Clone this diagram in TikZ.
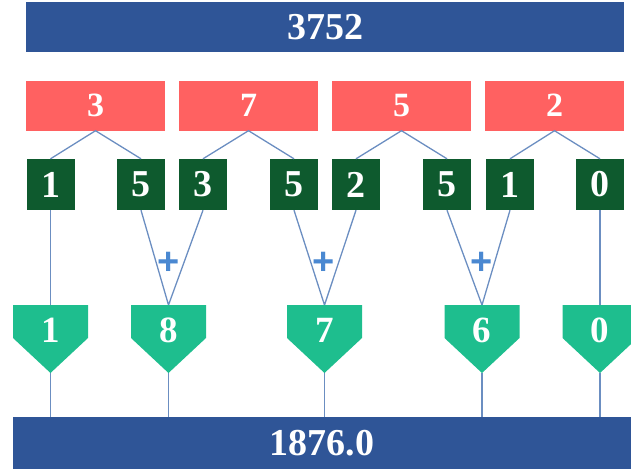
\documentclass[tikz,border=0pt]{standalone}
\usepackage{fontspec}
\setmainfont{Liberation Serif}
\newfontfamily\plusfont{Liberation Sans}
\newlength{\du}
\setlength{\du}{1pt}

\definecolor{barblue}{rgb}{0.184, 0.333, 0.592}
\definecolor{digitred}{rgb}{1.000, 0.380, 0.380}
\definecolor{pairgreen}{rgb}{0.055, 0.353, 0.180}
\definecolor{sumgreen}{rgb}{0.118, 0.745, 0.557}
\definecolor{wireblue}{rgb}{0.420, 0.557, 0.757}
\definecolor{plusblue}{rgb}{0.290, 0.533, 0.820}

\tikzset{
  bar/.style={fill=barblue, inner sep=0pt, minimum height=50\du, text=white, font=\bfseries\fontsize{38}{38}\selectfont},
  digit/.style={fill=digitred, inner sep=0pt, minimum width=139\du, minimum height=50\du, text=white, font=\bfseries\fontsize{34}{34}\selectfont},
  pair/.style={fill=pairgreen, inner sep=0pt, minimum width=48\du, minimum height=51\du, text=white, font=\bfseries\fontsize{38}{38}\selectfont},
  sumtext/.style={inner sep=0pt, text=white, font=\bfseries\fontsize{37}{37}\selectfont},
  plus/.style={inner sep=0pt, text=plusblue, font=\plusfont\bfseries\fontsize{38}{38}\selectfont},
  wire/.style={draw=wireblue, line width=1.3\du},
}

\begin{document}
\begin{tikzpicture}
\pgftransformxscale{1.000000}
\pgftransformyscale{-1.000000}
\useasboundingbox (0\du,0\du) rectangle (631\du,472\du);

\node[bar, minimum width=598\du] (num) at (325\du,27\du){3752};

\node[digit] (d1) at (95.5\du,105.5\du){3};
\node[digit] (d2) at (248.5\du,105.5\du){7};
\node[digit] (d3) at (401.5\du,105.5\du){5};
\node[digit] (d4) at (554.5\du,105.5\du){2};

\node[pair] (p1) at (50.5\du,184.5\du){1};
\node[pair] (p2) at (141\du,184.5\du){5};
\node[pair] (p3) at (203\du,184.5\du){3};
\node[pair] (p4) at (294\du,184.5\du){5};
\node[pair] (p5) at (356\du,184.5\du){2};
\node[pair] (p6) at (447\du,184.5\du){5};
\node[pair] (p7) at (510\du,184.5\du){1};
\node[pair] (p8) at (600\du,184.5\du){0};

\node[bar, minimum width=618\du, minimum height=52\du] (res) at (322\du,443\du){1876.0};

% top and tip of each sum
\coordinate (s1top) at (50.5\du,305\du);
\coordinate (s2top) at (168.5\du,305\du);
\coordinate (s3top) at (324.5\du,305\du);
\coordinate (s4top) at (482\du,305\du);
\coordinate (s5top) at (600\du,305\du);
\coordinate (s1tip) at (50.5\du,373\du);
\coordinate (s2tip) at (168.5\du,373\du);
\coordinate (s3tip) at (324.5\du,373\du);
\coordinate (s4tip) at (482\du,373\du);
\coordinate (s5tip) at (600\du,373\du);

\draw[wire] (p1.south)--(s1top);
\draw[wire] (p2.south)--(s2top)--(p3.south);
\draw[wire] (p4.south)--(s3top)--(p5.south);
\draw[wire] (p6.south)--(s4top)--(p7.south);
\draw[wire] (p8.south)--(s5top);

\draw[wire] (p1.north)--(d1.south)--(p2.north);
\draw[wire] (p3.north)--(d2.south)--(p4.north);
\draw[wire] (p5.north)--(d3.south)--(p6.north);
\draw[wire] (p7.north)--(d4.south)--(p8.north);

\draw[wire] (s1tip)--(s1tip|-res.north);
\draw[wire] (s2tip)--(s2tip|-res.north);
\draw[wire] (s3tip)--(s3tip|-res.north);
\draw[wire] (s4tip)--(s4tip|-res.north);
\draw[wire] (s5tip)--(s5tip|-res.north);

\fill[sumgreen] (s1top)++(-37.5\du,0\du)--++(75\du,0\du)--++(0\du,33\du)--(s1tip)--++(-37.5\du,-35\du)--cycle;
\fill[sumgreen] (s2top)++(-37.5\du,0\du)--++(75\du,0\du)--++(0\du,33\du)--(s2tip)--++(-37.5\du,-35\du)--cycle;
\fill[sumgreen] (s3top)++(-37.5\du,0\du)--++(75\du,0\du)--++(0\du,33\du)--(s3tip)--++(-37.5\du,-35\du)--cycle;
\fill[sumgreen] (s4top)++(-37.5\du,0\du)--++(75\du,0\du)--++(0\du,33\du)--(s4tip)--++(-37.5\du,-35\du)--cycle;
\fill[sumgreen] (s5top)++(-37.5\du,0\du)--++(75\du,0\du)--++(0\du,33\du)--(s5tip)--++(-37.5\du,-35\du)--cycle;

\node[sumtext] (v1) at (50.5\du,330\du){1};
\node[sumtext] (v2) at (168.5\du,330\du){8};
\node[sumtext] (v3) at (324.5\du,330\du){7};
\node[sumtext] (v4) at (482\du,330\du){6};
\node[sumtext] (v5) at (600\du,330\du){0};

\node[plus] (add1) at (169\du,263\du){+};
\node[plus] (add2) at (324\du,263\du){+};
\node[plus] (add3) at (482\du,263\du){+};

\end{tikzpicture}
\end{document}
